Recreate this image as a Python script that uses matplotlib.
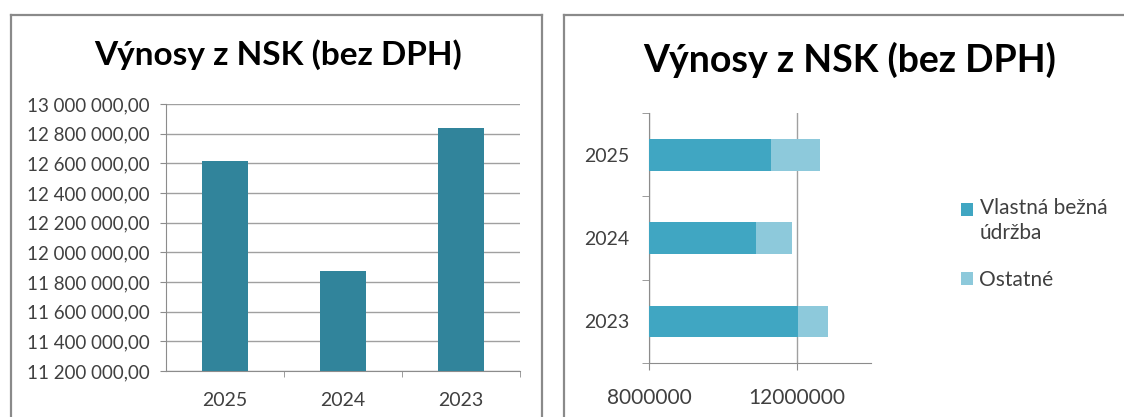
import matplotlib
matplotlib.use('Agg')
import matplotlib.pyplot as plt
from matplotlib.ticker import FuncFormatter
from matplotlib.lines import Line2D

# data
years = ['2025', '2024', '2023']
totals = [12616000, 11874000, 12838000]
vlastna = [11310000, 10880000, 12030000]
ostatne = [1306000, 994000, 808000]
labels = ['Vlastná bežná\núdržba', 'Ostatné']
title = 'Výnosy z NSK (bez DPH)'

plt.rcParams['font.family'] = ['Lato', 'DejaVu Sans']
W, H = 1124, 417
fig = plt.figure(figsize=(W / 100, H / 100), dpi=100)
fig.patch.set_facecolor('white')

grey = '#8c8c8c'
txt = '#404040'


def fmt_sk(v, pos):
    s = '{:,.2f}'.format(v)
    return s.replace(',', ' ').replace('.', ',')


# panel borders (pixel coords from top-left)
def border(x0, x1, y0):
    for xs, ys in [([x0, x0], [y0, H + 5]), ([x0, x1], [y0, y0]), ([x1, x1], [y0, H + 5])]:
        fig.add_artist(Line2D([x / W for x in xs], [1 - y / H for y in ys],
                              color='#8a8a8a', lw=1.6))

border(11, 542, 15)
border(564, 1130, 15)

# left chart
ax1 = fig.add_axes([166 / W, 1 - 371 / H, 354 / W, 267 / H])
ax1.bar(range(len(years)), totals, width=0.39, color='#31849b', zorder=3)
ax1.set_xlim(-0.5, 2.5)
ax1.set_ylim(11200000, 13000000)
ax1.set_yticks(range(11200000, 13000001, 200000))
ax1.yaxis.set_major_formatter(FuncFormatter(fmt_sk))
ax1.set_xticks(range(len(years)))
ax1.set_xticklabels(years)
ax1.set_xticks([0.5, 1.5, 2.5], minor=True)
ax1.tick_params(axis='x', which='major', length=0, pad=15, labelsize=14, labelcolor=txt)
ax1.tick_params(axis='x', which='minor', length=4, color=grey, direction='out')
ax1.tick_params(axis='y', length=4, color=grey, labelsize=13.5, labelcolor=txt, pad=8)
ax1.grid(axis='y', color='#a0a0a0', lw=1, zorder=0)
for s in ['top', 'right']:
    ax1.spines[s].set_visible(False)
for s in ['left', 'bottom']:
    ax1.spines[s].set_color(grey)
fig.text(278 / W, 1 - 65 / H, title, ha='center', va='baseline',
         fontsize=24, fontweight='bold', color='black')

# right chart
ax2 = fig.add_axes([649 / W, 1 - 363 / H, 222 / W, 250 / H])
ypos = [2, 1, 0]
ax2.barh(ypos, vlastna, height=0.38, left=0, color='#40a6c2', zorder=3, label=labels[0])
ax2.barh(ypos, ostatne, height=0.38, left=vlastna, color='#8dc9db', zorder=3, label=labels[1])
ax2.set_xlim(8000000, 14000000)
ax2.set_ylim(-0.5, 2.5)
ax2.set_xticks([8000000, 12000000])
ax2.set_xticklabels(['8000000', '12000000'])
ax2.set_yticks(ypos)
ax2.set_yticklabels(years)
ax2.set_yticks([-0.5, 0.5, 1.5, 2.5], minor=True)
ax2.tick_params(axis='y', which='major', length=0, pad=14, labelsize=14, labelcolor=txt)
ax2.tick_params(axis='y', which='minor', length=5, color=grey)
ax2.tick_params(axis='x', length=5, color=grey, labelsize=15, labelcolor=txt, pad=13)
ax2.grid(axis='x', color='#a0a0a0', lw=1, zorder=0)
for s in ['top', 'right']:
    ax2.spines[s].set_visible(False)
for s in ['left', 'bottom']:
    ax2.spines[s].set_color(grey)
fig.text(850 / W, 1 - 72 / H, title, ha='center', va='baseline',
         fontsize=27, fontweight='bold', color='black')

leg = fig.legend(loc='upper left', bbox_to_anchor=(942 / W, 1 - 179 / H), frameon=False,
                 fontsize=15, handlelength=0.6, handleheight=0.6, handletextpad=0.3,
                 labelspacing=1.3, labelcolor=txt)
for t in leg.get_texts():
    t.set_linespacing(1.3)
# put the first square beside the first line of its two-line label
h0 = leg.legend_handles[0]
h0.set_y(h0.get_y() + 8)

fig.savefig('out.png', dpi=100)
